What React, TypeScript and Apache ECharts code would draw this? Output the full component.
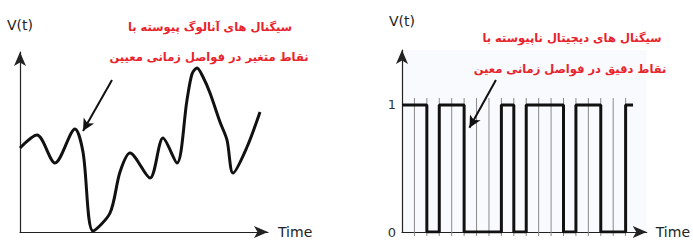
import React, { useEffect, useRef } from "react";
import * as echarts from "echarts";

// Analog signal (x, value), arbitrary units
const analogX = [0, 17, 35, 55, 63, 73, 90, 100, 110, 130, 143, 157, 167, 172, 177, 183, 190, 200, 207, 213, 227, 240];
const analogY = [84, 97, 69, 103, 80, 1, 19, 60, 79, 54, 94, 69, 132, 158, 164, 155, 139, 110, 92, 59, 85, 120];

// Digital signal: transition times (clock cells) and levels
const digitalT = [0, 2, 3, 5, 8, 9, 10, 13, 14, 16, 18, 18.6];
const digitalV = [1, 0, 1, 0, 1, 0, 1, 0, 1, 0, 1, 1];

// Clock grid lines
const clockTicks = [1, 2, 3, 4, 5, 6, 7, 8, 9, 10, 11, 12, 13, 14, 15, 16, 17, 18];

const yTickLabels = ["0", "1"];
const analogText = ["سیگنال های آنالوگ پیوسته با", "نقاط متغیر در فواصل زمانی معیین"];
const digitalText = ["سیگنال های دیجیتال ناپیوسته با", "نقاط دقیق در فواصل زمانی معین"];

export default function App() {
  const ref = useRef<HTMLDivElement>(null);
  useEffect(() => {
    if (!ref.current) return;
    const chart = echarts.init(ref.current, undefined, { renderer: "svg" });
    const axisLine = {
      show: true,
      symbol: ["none", "arrow"],
      symbolSize: [9, 14],
      lineStyle: { color: "#222", width: 1.2 },
    };
    const nameStyle = { color: "#222", fontSize: 14, fontFamily: "DejaVu Sans" };
    const red = "#e8232c";
    const textFont = { fontFamily: "DejaVu Sans", fontWeight: "bold", fontSize: 11.5, fill: red };
    chart.setOption({
      animation: false,
      backgroundColor: "#ffffff",
      grid: [
        { left: 20, top: 52, width: 248, height: 180 },
        { left: 402, top: 50, width: 250, height: 182, show: true, backgroundColor: "#f9fafd", borderWidth: 0 },
      ],
      xAxis: [
        {
          gridIndex: 0, type: "value", min: 0, max: 248,
          axisLine, axisTick: { show: false }, axisLabel: { show: false }, splitLine: { show: false },
          name: "Time", nameLocation: "end", nameGap: 10, nameTextStyle: nameStyle,
        },
        {
          gridIndex: 1, type: "value", min: 0, max: 19.7,
          axisLine, axisTick: { show: false }, axisLabel: { show: false }, splitLine: { show: false },
          name: "Time", nameLocation: "end", nameGap: 9, nameTextStyle: nameStyle,
        },
      ],
      yAxis: [
        {
          gridIndex: 0, type: "value", min: 0, max: 180,
          axisLine, axisTick: { show: false }, axisLabel: { show: false }, splitLine: { show: false },
          name: "V(t)", nameLocation: "end", nameGap: 20, nameTextStyle: { ...nameStyle, align: "center" },
        },
        {
          gridIndex: 1, type: "value", min: 0, max: 1.433,
          axisLine, axisTick: { show: false }, splitLine: { show: false },
          axisLabel: {
            show: true, customValues: yTickLabels.map(Number), margin: 6,
            color: "#333", fontSize: 13, fontFamily: "DejaVu Sans",
            formatter: (v: number) => String(v),
          },
          name: "V(t)", nameLocation: "end", nameGap: 22, nameTextStyle: { ...nameStyle, align: "center" },
        },
      ],
      series: [
        {
          type: "line", xAxisIndex: 0, yAxisIndex: 0,
          data: analogX.map((x, i) => [x, analogY[i]]),
          smooth: 0.3, showSymbol: false,
          lineStyle: { color: "#111", width: 3 },
          markLine: {
            silent: true, symbol: ["none", "arrow"], symbolSize: [9, 12],
            label: { show: false },
            lineStyle: { color: "#111", width: 2, type: "solid" },
            data: [[{ coord: [92, 152] }, { coord: [63, 101] }]],
          },
        },
        {
          type: "custom", xAxisIndex: 1, yAxisIndex: 1,
          data: clockTicks.map((k) => [k, 0]),
          encode: { x: 0, y: 1 },
          clip: false,
          renderItem: (params: any, api: any) => {
            const x = api.value(0);
            const top = api.coord([x, 1.055]);
            const bot = api.coord([x, 0]);
            return {
              type: "line",
              shape: { x1: top[0], y1: top[1], x2: bot[0], y2: bot[1] + 4 },
              style: { stroke: "#8a8a8a", lineWidth: 1 },
            };
          },
          z: 1,
        },
        {
          type: "line", xAxisIndex: 1, yAxisIndex: 1,
          data: digitalT.map((t, i) => [t, digitalV[i]]),
          step: "end", showSymbol: false,
          lineStyle: { color: "#111", width: 3 },
          z: 3,
          markLine: {
            silent: true, symbol: ["none", "arrow"], symbolSize: [9, 12],
            label: { show: false },
            lineStyle: { color: "#111", width: 2, type: "solid" },
            data: [[{ coord: [7.56, 1.197] }, { coord: [5.43, 0.82] }]],
          },
        },
      ],
      graphic: [
        { type: "text", x: 210, y: 27, style: { text: analogText[0], ...textFont, align: "center", verticalAlign: "middle" } },
        { type: "text", x: 209, y: 57, style: { text: analogText[1], ...textFont, align: "center", verticalAlign: "middle" } },
        { type: "text", x: 572, y: 38, style: { text: digitalText[0], ...textFont, align: "center", verticalAlign: "middle" } },
        { type: "text", x: 570, y: 69, style: { text: digitalText[1], ...textFont, align: "center", verticalAlign: "middle" } },
      ],
    });
    return () => chart.dispose();
  }, []);
  return <div ref={ref} style={{ position: "absolute", left: 0, top: 0, width: 693, height: 241 }} />;
}
